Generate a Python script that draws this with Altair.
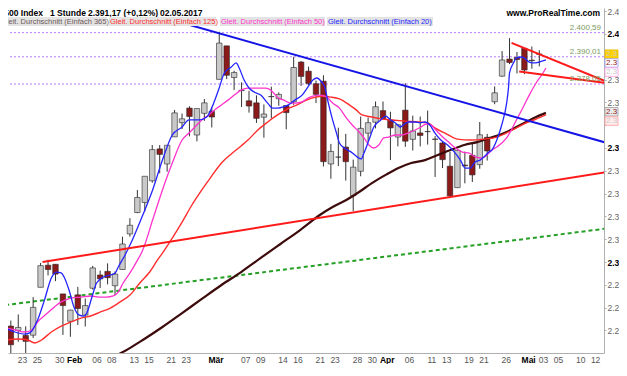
import altair as alt
import pandas as pd

# ---------------- data ----------------
dates = ["19.01", "20.01", "23.01", "24.01", "25.01", "26.01", "27.01", "30.01", "31.01",
         "01.02", "02.02", "03.02", "06.02", "07.02", "08.02", "09.02", "10.02", "13.02", "14.02", "15.02",
         "16.02", "17.02", "21.02", "22.02", "23.02", "24.02", "27.02", "28.02",
         "01.03", "02.03", "03.03", "06.03", "07.03", "08.03", "09.03", "10.03", "13.03", "14.03", "15.03",
         "16.03", "17.03", "20.03", "21.03", "22.03", "23.03", "24.03", "27.03", "28.03", "29.03", "30.03", "31.03",
         "03.04", "04.04", "05.04", "06.04", "07.04", "10.04", "11.04", "12.04", "13.04", "17.04", "18.04",
         "19.04", "20.04", "21.04", "24.04", "25.04", "26.04", "27.04", "28.04",
         "01.05", "02.05"]
opens = [2271.9, 2270.0, 2267.8, 2267.9, 2288.9, 2298.6, 2299.0, 2286.0, 2274.0,
         2285.6, 2276.7, 2288.5, 2294.3, 2295.9, 2289.6, 2296.7, 2312.3, 2321.7, 2326.1, 2335.6, 2349.6, 2343.0,
         2354.9, 2361.1, 2367.5, 2355.7, 2365.2, 2366.1,
         2380.1, 2394.8, 2380.9, 2375.2, 2370.7, 2369.8, 2363.5, 2372.5, 2371.6, 2368.6, 2370.3, 2387.7, 2383.7,
         2378.2, 2379.3, 2343.0, 2346.0, 2350.4, 2329.1, 2339.8, 2356.5, 2361.3, 2366.4,
         2362.3, 2354.8, 2366.6, 2353.8, 2356.6, 2357.2, 2353.9, 2352.2, 2342.0, 2332.6, 2342.5, 2346.8, 2342.7,
         2354.7, 2370.3, 2381.5, 2389.0, 2389.7, 2393.7,
         2388.5, 2391.1]
highs = [2274.3, 2277.0, 2271.8, 2284.6, 2299.6, 2301.0, 2299.0, 2286.0, 2279.1,
         2289.1, 2284.0, 2298.3, 2296.2, 2299.4, 2295.9, 2311.1, 2319.2, 2331.6, 2337.6, 2351.3, 2351.3, 2351.2,
         2366.7, 2365.1, 2368.3, 2367.3, 2371.5, 2367.8,
         2401.0, 2394.8, 2383.9, 2378.8, 2375.1, 2373.1, 2369.1, 2376.9, 2374.4, 2368.6, 2390.0, 2388.1, 2385.7,
         2379.6, 2381.9, 2351.8, 2358.9, 2356.2, 2344.9, 2363.8, 2363.4, 2370.4, 2370.4,
         2365.9, 2360.5, 2378.4, 2364.2, 2363.8, 2366.4, 2355.2, 2352.7, 2348.3, 2349.1, 2348.4, 2352.6, 2361.4,
         2356.2, 2377.0, 2392.5, 2398.2, 2392.1, 2393.7,
         2394.5, 2392.9]
lows = [2258.4, 2265.0, 2257.0, 2266.7, 2288.9, 2294.1, 2291.6, 2268.0, 2267.2,
        2272.4, 2271.7, 2287.9, 2288.6, 2290.2, 2285.4, 2296.6, 2311.1, 2321.4, 2322.2, 2334.8, 2338.9, 2339.6,
        2354.9, 2358.3, 2355.1, 2352.9, 2361.9, 2359.0,
        2380.1, 2380.2, 2375.4, 2368.0, 2365.5, 2361.0, 2354.5, 2363.0, 2368.5, 2358.2, 2368.9, 2377.2, 2377.6,
        2369.7, 2341.9, 2336.5, 2342.1, 2335.7, 2322.3, 2337.6, 2352.9, 2358.6, 2362.6,
        2344.7, 2350.7, 2350.5, 2348.9, 2350.7, 2351.5, 2337.3, 2341.2, 2329.0, 2332.5, 2334.5, 2335.1, 2340.9,
        2344.5, 2369.2, 2381.2, 2386.8, 2382.7, 2382.4,
        2384.8, 2385.8]
closes = [2263.7, 2271.3, 2265.2, 2280.1, 2298.4, 2296.7, 2294.7, 2280.9, 2278.9,
          2279.6, 2280.9, 2297.4, 2292.6, 2293.1, 2294.7, 2307.9, 2316.1, 2328.3, 2337.6, 2349.3, 2347.2, 2351.2,
          2365.4, 2362.8, 2363.8, 2367.3, 2369.8, 2363.6,
          2396.0, 2381.9, 2383.1, 2375.3, 2368.4, 2363.0, 2364.9, 2372.6, 2373.5, 2365.5, 2385.3, 2381.4, 2378.3,
          2373.5, 2344.0, 2348.5, 2346.0, 2344.0, 2341.6, 2358.6, 2361.1, 2368.1, 2362.7,
          2358.8, 2360.2, 2353.0, 2357.5, 2355.5, 2357.2, 2353.8, 2344.9, 2329.0, 2349.0, 2342.2, 2338.2, 2355.8,
          2348.7, 2374.2, 2388.6, 2387.5, 2388.8, 2384.2,
          2388.3, 2391.2]

# moving averages (position in trading days, value)
ma20_day = [-0.26, 1.06, 2.38, 3.04, 4.10, 5.02, 5.94, 6.61, 7.27, 7.66, 8.32, 8.98, 9.64, 10.30, 10.70, 11.36,
            12.02, 12.95, 13.87, 14.53, 14.93, 15.85, 16.64, 18.23, 19.55, 20.87, 22.19, 23.51, 24.44, 25.76,
            26.82, 27.48, 28.40, 29.19, 30.12, 30.78, 31.18, 31.84, 32.50, 33.16, 34.08, 35.01, 35.67, 36.33,
            37.12, 37.78, 38.71, 39.63, 40.42, 41.08, 41.61, 42.27, 42.67, 43.06, 43.73, 44.25, 44.65, 45.31,
            46.24, 47.03, 47.56, 47.95, 48.61, 49.27, 50.20, 50.86, 51.52, 52.18, 52.84, 53.24, 53.90, 54.82,
            55.48, 56.14, 56.80, 57.46, 58.26, 59.18, 60.10, 60.90, 61.56, 62.22, 62.88, 63.54, 64.07, 64.73,
            65.13, 65.79, 66.45, 67.11, 67.37, 67.50, 68.03, 68.43, 69.09, 69.48, 70.15, 70.81, 71.47, 72.39]
ma20_val = [2271.1, 2269.3, 2268.4, 2268.9, 2274.6, 2283.3, 2293.0, 2295.6, 2295.2, 2293.4, 2287.7, 2280.3,
            2276.8, 2276.3, 2277.6, 2284.2, 2290.8, 2293.4, 2294.3, 2295.2, 2297.8, 2303.1, 2308.3, 2320.6,
            2331.6, 2344.7, 2355.7, 2359.2, 2362.3, 2362.3, 2363.6, 2367.5, 2375.4, 2382.9, 2385.5, 2387.3,
            2385.1, 2379.8, 2376.3, 2374.6, 2373.2, 2369.7, 2367.5, 2367.5, 2368.0, 2368.9, 2371.1, 2373.2,
            2376.8, 2379.8, 2380.7, 2378.9, 2376.8, 2371.1, 2362.3, 2356.6, 2352.2, 2350.0, 2348.2, 2346.1,
            2345.2, 2347.8, 2353.5, 2359.2, 2362.3, 2364.0, 2362.3, 2361.0, 2359.2, 2360.1, 2361.4, 2361.4,
            2361.0, 2361.4, 2360.1, 2356.6, 2353.5, 2351.3, 2348.2, 2344.7, 2341.2, 2341.2, 2343.9, 2344.7,
            2346.1, 2348.2, 2349.1, 2353.5, 2360.1, 2369.7, 2376.8, 2382.9, 2387.3, 2389.5, 2389.9, 2389.5,
            2387.7, 2387.3, 2387.7, 2388.6]
ma50_day = [-0.26, 1.06, 2.38, 3.30, 4.10, 5.42, 6.34, 7.27, 8.59, 9.91, 11.23, 12.55, 13.34, 14.27, 14.93,
            15.59, 16.51, 17.31, 18.23, 19.55, 20.87, 22.19, 23.51, 24.44, 25.23, 26.16, 27.08, 27.87, 28.80,
            29.72, 30.52, 31.44, 32.36, 33.03, 33.82, 34.74, 35.40, 35.80, 36.46, 37.12, 38.05, 38.71, 39.63,
            40.42, 41.08, 42.01, 42.93, 43.73, 44.65, 45.57, 46.37, 47.29, 47.95, 48.61, 49.27, 49.93, 50.59,
            51.25, 52.18, 53.00, 53.90, 54.82, 55.61, 56.27, 56.94, 57.60, 58.52, 59.45, 60.24, 61.16, 62.09,
            62.88, 63.80, 64.46, 65.13, 65.79, 67.11, 68.43, 69.35, 70.15, 71.07, 72.00, 72.39]
ma50_val = [2271.1, 2270.2, 2269.3, 2270.2, 2273.7, 2277.6, 2280.3, 2282.5, 2284.2, 2284.6, 2285.1, 2284.6,
            2284.6, 2285.1, 2286.8, 2290.8, 2295.2, 2299.6, 2305.3, 2318.4, 2331.6, 2343.4, 2353.5, 2356.6,
            2359.2, 2362.3, 2364.5, 2366.7, 2368.9, 2371.1, 2373.2, 2375.4, 2376.3, 2376.3, 2376.3, 2376.3,
            2375.4, 2374.1, 2371.9, 2371.1, 2369.7, 2369.7, 2370.2, 2371.9, 2372.8, 2373.2, 2372.4, 2369.7,
            2367.5, 2363.2, 2360.1, 2357.0, 2354.4, 2351.3, 2350.0, 2351.3, 2354.4, 2354.8, 2355.7, 2355.7,
            2356.6, 2357.9, 2359.2, 2360.5, 2360.1, 2357.9, 2354.8, 2352.2, 2350.0, 2348.2, 2347.8, 2346.1,
            2345.6, 2346.9, 2349.1, 2350.4, 2354.4, 2362.3, 2368.0, 2373.2, 2378.5, 2382.9, 2385.1]
ma125_day = [-0.26, 1.45, 2.77, 3.70, 4.62, 5.94, 7.27, 8.59, 9.91, 11.23, 12.55, 13.87, 15.19, 16.51, 17.83,
             19.15, 20.21, 20.87, 22.19, 23.51, 24.83, 26.16, 27.48, 28.80, 30.12, 31.44, 32.36, 33.69, 35.01,
             36.33, 37.65, 38.97, 40.29, 41.61, 42.40, 43.33, 44.65, 45.97, 46.90, 47.69, 49.01, 50.33, 51.65,
             53.50, 55.22, 56.54, 57.46, 58.78, 60.50, 62.22, 64.07, 65.79, 67.11, 68.43, 69.75, 71.07, 72.39]
ma125_val = [2265.8, 2266.2, 2265.8, 2264.5, 2265.8, 2269.3, 2271.9, 2273.7, 2275.4, 2276.3, 2278.1, 2279.8,
             2282.5, 2285.5, 2290.8, 2295.6, 2300.9, 2303.9, 2310.5, 2317.5, 2325.0, 2331.6, 2337.7, 2343.4,
             2347.4, 2350.9, 2353.5, 2357.9, 2361.4, 2364.5, 2367.1, 2368.9, 2371.1, 2372.4, 2372.8, 2372.4,
             2371.5, 2368.9, 2366.7, 2364.5, 2363.6, 2362.7, 2362.3, 2361.8, 2361.4, 2361.0, 2358.8, 2356.6,
             2353.9, 2353.5, 2353.9, 2354.8, 2356.6, 2358.8, 2361.0, 2362.7, 2364.5]
ma365_day = [14.00, 16.25, 18.23, 20.87, 23.51, 26.16, 28.80, 31.44, 34.08, 36.72, 39.37, 42.01, 43.73, 45.57,
             47.29, 49.01, 50.86, 52.58, 54.29, 56.14, 57.86, 59.58, 61.43, 63.14, 64.86, 65.79, 67.11, 68.43,
             69.75, 71.07, 72.39]
ma365_val = [2257.9, 2261.8, 2265.8, 2271.5, 2277.6, 2283.8, 2289.9, 2295.6, 2301.8, 2307.9, 2314.0, 2320.6,
             2324.1, 2327.2, 2330.7, 2334.6, 2338.2, 2341.2, 2343.4, 2344.7, 2346.9, 2349.1, 2351.3, 2352.6,
             2354.4, 2355.3, 2357.0, 2359.2, 2361.4, 2363.6, 2365.4]

# trend lines: start / end (trading day, price)
trend_names = ["blue", "red_low", "green", "red_top", "red_bottom"]
trend_d0 = [22.19, 4.76, -0.26, 67.77, 68.80]
trend_p0 = [2406.1, 2300.0, 2281.1, 2396.1, 2383.5]
trend_d1 = [80.58, 80.58, 80.58, 80.58, 80.58]
trend_p1 = [2352.2, 2339.5, 2314.7, 2379.0, 2378.4]

levels = [2400.59, 2390.01, 2378.05]
level_labels = ["2.400,59", "2.390,01", "2.378,05"]

tag_names = ["Kurs", "MA20", "MA50", "MA365", "MA125"]
tag_prices = [2391.17, 2387.3, 2383.3, 2365.9, 2361.8]

tick_days = [0, 2, 4, 7, 9, 12, 14, 17, 19, 22, 24, 28, 32, 34, 37, 39, 42, 44, 47, 49, 51, 54, 57, 59, 62,
             64, 67, 70, 72, 74, 77, 79]
tick_labels = ["19", "23", "25", "30", "Feb", "06", "08", "13", "15", "21", "23", "Mär", "07", "09", "14", "16",
               "21", "23", "28", "30", "Apr", "06", "11", "13", "19", "21", "26", "Mai", "03", "05", "10", "12"]
month_days = [9, 28, 51, 70]
price_ticks = [2270, 2280, 2290, 2300, 2310, 2320, 2330, 2340, 2350, 2360, 2370, 2380, 2390, 2400, 2410]
covered_ticks = [2390, 2360]   # hidden under the price tags

# ---------------- frames ----------------
candles = pd.DataFrame({
    "d": [i + 0.5 for i in range(len(dates))],
    "date": dates, "op": opens, "hi": highs, "lo": lows, "cl": closes,
})
candles["dir"] = ["up" if c >= o else "down" for o, c in zip(opens, closes)]


def ma_frame(days, vals):
    return pd.DataFrame({"d": days, "p": vals})


trend_rows = []
for n, a, b, c, e in zip(trend_names, trend_d0, trend_p0, trend_d1, trend_p1):
    trend_rows.append({"line": n, "d": a, "p": b})
    trend_rows.append({"line": n, "d": c, "p": e})
trends = pd.DataFrame(trend_rows)

levels_df = pd.DataFrame({"p": levels, "label": level_labels})
tags_df = pd.DataFrame({"name": tag_names, "p": tag_prices})

# ---------------- scales & axes ----------------
FONT = "Liberation Sans"
xs = alt.Scale(domain=[0.7926, 79.52], nice=False, zero=False)
ys = alt.Scale(domain=[2260.09, 2411.4], nice=False, zero=False)

labels_js = "[" + ",".join("'" + t + "'" for t in tick_labels) + "]"
days_js = "[" + ",".join(str(v) for v in tick_days) + "]"
months_js = "[" + ",".join(str(v) for v in month_days) + "]"
covered_js = "[" + ",".join(str(v) for v in covered_ticks) + "]"
month_test = "indexof(" + months_js + ", datum.value) >= 0"

x_axis = alt.Axis(
    values=tick_days,
    labelExpr=labels_js + "[indexof(" + days_js + ", datum.value)]",
    title=None, grid=False, ticks=False, labelPadding=2,
    labelOverlap=False, labelFlush=False,
    domainColor="#b0b0b0", labelFont=FONT, labelFontSize=8.5,
    labelColor={"condition": {"test": month_test, "value": "#000000"}, "value": "#555555"},
    labelFontWeight={"condition": {"test": month_test, "value": "bold"}, "value": "normal"},
)
y_axis = alt.Axis(
    orient="right", values=price_ticks,
    labelExpr="indexof(" + covered_js + ", datum.value) >= 0 ? '' : "
              "substring(format(datum.value / 1000, '.3f'), 0, 3)",
    title=None, grid=False, tickSize=2, labelPadding=1,
    domainColor="#b0b0b0", tickColor="#b0b0b0", labelOverlap=False, labelFlush=False,
    labelFont=FONT, labelFontSize=8.5,
    labelColor={"condition": {"test": "datum.value % 50 === 0", "value": "#000000"}, "value": "#666666"},
    labelFontWeight={"condition": {"test": "datum.value % 50 === 0", "value": "bold"}, "value": "normal"},
)


def X(field="d"):
    return alt.X(field + ":Q", scale=xs, axis=x_axis)


def Y(field="p"):
    return alt.Y(field + ":Q", scale=ys, axis=y_axis)


# ---------------- layers ----------------
level_rules = alt.Chart(levels_df).mark_rule(
    color="#b77cff", strokeDash=[2, 2], strokeWidth=1
).encode(y=Y("p"))

level_text = alt.Chart(levels_df).mark_text(
    align="right", baseline="bottom", dy=-1, font=FONT, fontSize=8, color="#7d9a5d"
).encode(x=alt.value(593), y=Y("p"), text="label:N")

wicks = alt.Chart(candles).mark_rule(color="#333333", strokeWidth=1, clip=True).encode(
    x=X(), y=Y("lo"), y2="hi")
bodies = alt.Chart(candles).mark_bar(size=5.5, stroke="#262626", strokeWidth=0.6, clip=True).encode(
    x=X(), y=Y("op"), y2="cl",
    color=alt.Color("dir:N", scale=alt.Scale(domain=["up", "down"], range=["#c9c9c9", "#8b1a1a"]),
                    legend=None))


def ma_line(days, vals, color, width):
    return alt.Chart(ma_frame(days, vals)).mark_line(
        color=color, strokeWidth=width, clip=True, interpolate="monotone"
    ).encode(x=X(), y=Y(), order="d:Q")


ma365 = ma_line(ma365_day, ma365_val, "#3d0b0b", 2.2)
ma125 = ma_line(ma125_day, ma125_val, "#ff2d2d", 1.4)
ma50 = ma_line(ma50_day, ma50_val, "#ff33cc", 1.3)
ma20 = ma_line(ma20_day, ma20_val, "#2424ff", 1.3)

trend_green = alt.Chart(trends).transform_filter("datum.line == 'green'").mark_line(
    color="#25a025", strokeWidth=2, strokeDash=[4, 3], clip=True).encode(x=X(), y=Y())
trend_blue = alt.Chart(trends).transform_filter("datum.line == 'blue'").mark_line(
    color="#1414e6", strokeWidth=2, clip=True).encode(x=X(), y=Y())
trend_red = alt.Chart(trends).transform_filter(
    "datum.line == 'red_low' || datum.line == 'red_top' || datum.line == 'red_bottom'").mark_line(
    color="#ff1a1a", strokeWidth=2, clip=True).encode(x=X(), y=Y(), detail="line:N")

tag_box = alt.Chart(tags_df).transform_calculate(
    lo="datum.p - 1.85", hi="datum.p + 1.85"
).mark_rect(strokeWidth=0.8).encode(
    x=alt.value(597), x2=alt.value(610), y=Y("lo"), y2="hi",
    fill=alt.Fill("name:N", scale=alt.Scale(domain=tag_names,
                  range=["#ffd200", "#ffffff", "#ffffff", "#ececec", "#ffecec"]), legend=None),
    stroke=alt.Stroke("name:N", scale=alt.Scale(domain=tag_names,
                      range=["#e6bd00", "#9a9aff", "#ff9ade", "#9a9a9a", "#ff9a9a"]), legend=None),
)
tag_text = alt.Chart(tags_df).transform_calculate(
    t="substring(format(datum.p / 1000, '.3f'), 0, 3)"
).mark_text(align="left", baseline="middle", font=FONT, fontSize=8).encode(
    x=alt.value(598), y=Y("p"), text="t:N",
    color=alt.Color("name:N", scale=alt.Scale(domain=tag_names,
                    range=["#000000", "#2424ff", "#ff33cc", "#555555", "#ff2d2d"]), legend=None),
)

one = pd.DataFrame({"k": [0]})


def label(text, x, y, **kw):
    return alt.Chart(one).mark_text(font=FONT, baseline="middle", **kw).encode(
        x=alt.value(x), y=alt.value(y), text=alt.value(text))


def box(x0, x1, y0, y1, color):
    return alt.Chart(one).mark_rect(color=color).encode(
        x=alt.value(x0), x2=alt.value(x1), y=alt.value(y0), y2=alt.value(y1))


header = [
    label("S&P500 Index", 35, 4.5, align="right", fontSize=8.5, fontWeight="bold", color="#000"),
    label("1 Stunde", 42, 4.5, align="left", fontSize=8.5, fontWeight="bold", color="#000"),
    label("2.391,17 (+0,12%)", 80, 4.5, align="left", fontSize=8.5, fontWeight="bold", color="#000"),
    label("02.05.2017", 152, 4.5, align="left", fontSize=8.5, fontWeight="bold", color="#000"),
    label("www.ProRealTime.com", 592, 4.5, align="right", fontSize=8.5, fontWeight="bold", color="#000"),
    box(-8, 99, 9, 18, "#e3e3e3"),
    box(101, 208, 9, 18, "#e3e3e3"),
    box(212, 317, 9, 18, "#e3e3e3"),
    box(319, 425, 9, 18, "#e3e3e3"),
    label("Gleit. Durchschnitt (Einfach 365)", -7, 13.5, align="left", fontSize=7.5, color="#6e5858"),
    label("Gleit. Durchschnitt (Einfach 125)", 102, 13.5, align="left", fontSize=7.5, color="#ff2d2d"),
    label("Gleit. Durchschnitt (Einfach 50)", 213, 13.5, align="left", fontSize=7.5, color="#ff33cc"),
    label("Gleit. Durchschnitt (Einfach 20)", 320, 13.5, align="left", fontSize=7.5, color="#2424ff"),
]

chart = alt.layer(
    level_rules, trend_green, wicks, bodies, ma365, ma125, ma50, ma20,
    trend_blue, trend_red, level_text, tag_box, tag_text, *header
).properties(
    width=596, height=345,
    autosize=alt.AutoSizeParams(type="none"),
    padding={"left": 0, "top": 0, "right": 15, "bottom": 11},
    background="white",
).configure_view(stroke=None)

chart.save("out.html", embed_options={"renderer": "svg", "actions": False})
